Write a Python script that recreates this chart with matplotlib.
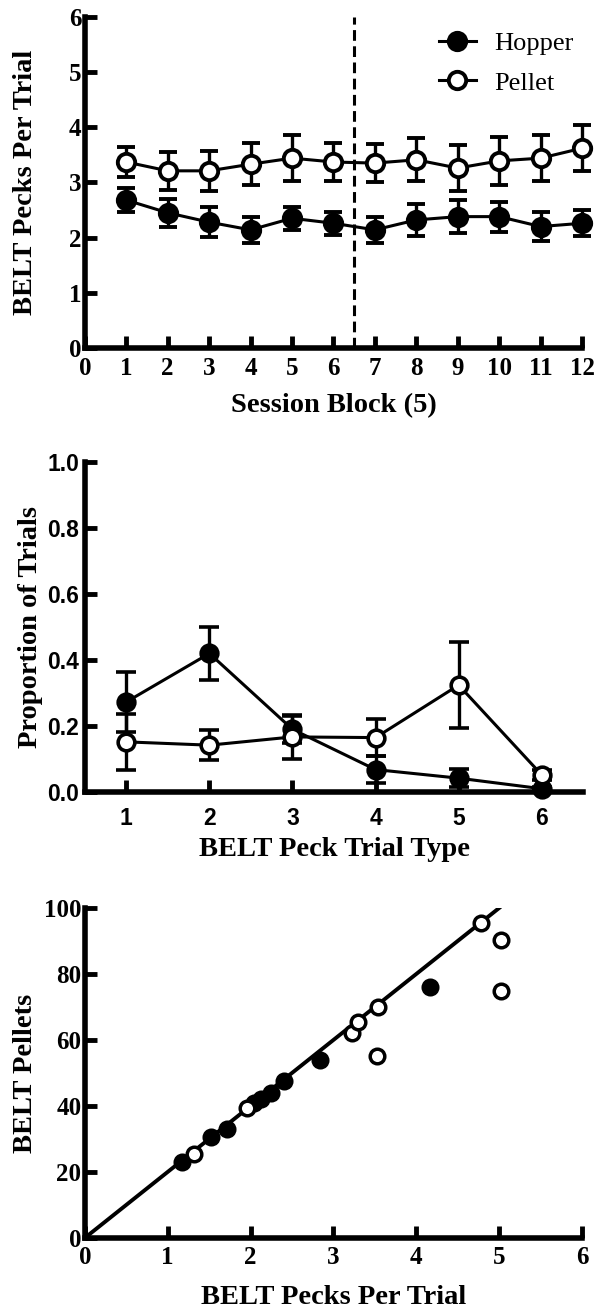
import matplotlib
matplotlib.use('Agg')
import matplotlib.pyplot as plt
from matplotlib.lines import Line2D

SERIF = 'Liberation Serif'
SANS = 'Liberation Sans'

# Top panel: pecks per trial by session block
blocks = [1, 2, 3, 4, 5, 6, 7, 8, 9, 10, 11, 12]
hopper_pecks = [2.68, 2.45, 2.28, 2.14, 2.35, 2.26, 2.14, 2.32, 2.38, 2.38, 2.20, 2.26]
hopper_pecks_sem = [0.22, 0.25, 0.27, 0.23, 0.21, 0.21, 0.24, 0.29, 0.30, 0.27, 0.26, 0.24]
pellet_pecks = [3.37, 3.21, 3.21, 3.33, 3.44, 3.37, 3.35, 3.41, 3.26, 3.39, 3.44, 3.62]
pellet_pecks_sem = [0.28, 0.34, 0.36, 0.38, 0.42, 0.34, 0.34, 0.39, 0.42, 0.44, 0.42, 0.42]
phase_change = 6.5

# Middle panel: proportion of trials by peck trial type
trial_types = [1, 2, 3, 4, 5, 6]
hopper_prop = [0.273, 0.42, 0.19, 0.068, 0.042, 0.01]
hopper_prop_sem = [0.09, 0.08, 0.04, 0.04, 0.028, 0.005]
pellet_prop = [0.152, 0.142, 0.167, 0.165, 0.324, 0.052]
pellet_prop_sem = [0.085, 0.046, 0.067, 0.057, 0.13, 0.015]

# Bottom panel: pellets vs pecks per trial (individual birds)
hopper_x = [1.17, 1.52, 1.72, 2.04, 2.13, 2.25, 2.40, 2.84, 4.16]
hopper_y = [23, 30.5, 33, 41, 42, 44, 47.5, 54, 76]
pellet_x = [1.32, 1.96, 3.22, 3.30, 3.53, 3.54, 4.78, 5.02, 5.02]
pellet_y = [25.3, 39.3, 62, 65.5, 55.2, 70, 95.5, 90.3, 74.8]
fit_slope = 20.0
fit_range = [0, 5]


def style_axes(ax, tick_family, xpad, ypad):
    for s in ['top', 'right']:
        ax.spines[s].set_visible(False)
    for s in ['left', 'bottom']:
        ax.spines[s].set_linewidth(4)
        ax.spines[s].set_capstyle('projecting')
    ax.tick_params(direction='in', length=8.5, width=3.5, labelsize=18)
    ax.tick_params(axis='x', pad=xpad)
    ax.tick_params(axis='y', pad=ypad)
    for lab in ax.get_xticklabels() + ax.get_yticklabels():
        lab.set_fontfamily(tick_family)
        lab.set_fontweight('bold')


def set_labels(ax, xlabel, ylabel, xpos, ypos):
    ax.set_xlabel(xlabel, fontsize=20.5, fontweight='bold', family=SERIF)
    ax.set_ylabel(ylabel, fontsize=20.5, fontweight='bold', family=SERIF)
    ax.xaxis.set_label_coords(0.5, xpos)
    ax.yaxis.set_label_coords(ypos, 0.5)


fig = plt.figure(figsize=(5.97, 13.10), dpi=100)

# ---- Top panel
ax1 = fig.add_axes([0.142, 0.7344, 0.833, 0.2527])
ax1.axvline(phase_change, color='black', lw=2.2, ls=(0, (3.5, 1.8)), zorder=1)
ax1.errorbar(blocks, hopper_pecks, yerr=hopper_pecks_sem, color='black', lw=2.2,
             marker='o', ms=12.5, mfc='black', mec='black', mew=2.8,
             capsize=6.5, capthick=2.4, elinewidth=2.4, clip_on=False, zorder=3)
ax1.errorbar(blocks, pellet_pecks, yerr=pellet_pecks_sem, color='black', lw=2.2,
             marker='o', ms=12.5, mfc='white', mec='black', mew=2.8,
             capsize=6.5, capthick=2.4, elinewidth=2.4, clip_on=False, zorder=4)
ax1.set_xlim(0, 12)
ax1.set_ylim(0, 6)
ax1.set_xticks(range(0, 13))
ax1.set_yticks(range(0, 7))
style_axes(ax1, SERIF, 6.5, 2.5)
set_labels(ax1, 'Session Block (5)', 'BELT Pecks Per Trial', -0.135, -0.095)

handles = [
    Line2D([], [], color='black', lw=2.2, marker='o', ms=12.5, mfc='black', mec='black', mew=2.8),
    Line2D([], [], color='black', lw=2.2, marker='o', ms=12.5, mfc='white', mec='black', mew=2.8),
]
ax1.legend(handles, ['Hopper', 'Pellet'], loc='upper left', bbox_to_anchor=(0.712, 0.955),
           frameon=False, prop={'family': SERIF, 'size': 19}, handlelength=1.4,
           handletextpad=0.7, labelspacing=0.6, borderpad=0, borderaxespad=0)

# ---- Middle panel
ax2 = fig.add_axes([0.142, 0.3954, 0.835, 0.2519])
ax2.errorbar(trial_types, hopper_prop, yerr=hopper_prop_sem, color='black', lw=2.2,
             marker='o', ms=12, mfc='black', mec='black', mew=2.6,
             capsize=7, capthick=2.4, elinewidth=2.4, clip_on=False, zorder=3)
ax2.errorbar(trial_types, pellet_prop, yerr=pellet_prop_sem, color='black', lw=2.2,
             marker='o', ms=12, mfc='white', mec='black', mew=2.6,
             capsize=7, capthick=2.4, elinewidth=2.4, clip_on=False, zorder=4)
ax2.set_xlim(0.5, 6.5)
ax2.set_ylim(0, 1.0)
ax2.set_xticks(trial_types)
ax2.set_yticks([0, 0.2, 0.4, 0.6, 0.8, 1.0])
ax2.set_yticklabels(['0.0', '0.2', '0.4', '0.6', '0.8', '1.0'])
style_axes(ax2, SANS, 11, 4)
for lab in ax2.get_xticklabels() + ax2.get_yticklabels():
    lab.set_fontsize(16.5)
set_labels(ax2, 'BELT Peck Trial Type', 'Proportion of Trials', -0.135, -0.084)

# ---- Bottom panel
ax3 = fig.add_axes([0.142, 0.055, 0.833, 0.2519])
ax3.plot(fit_range, [fit_slope * v for v in fit_range], color='black', lw=2.8, zorder=2)
ax3.plot(hopper_x, hopper_y, ls='none', marker='o', ms=10.5, mfc='black', mec='black',
         mew=2.5, clip_on=False, zorder=3)
ax3.plot(pellet_x, pellet_y, ls='none', marker='o', ms=10.5, mfc='white', mec='black',
         mew=2.5, clip_on=False, zorder=4)
ax3.set_xlim(0, 6)
ax3.set_ylim(0, 100)
ax3.set_xticks(range(0, 7))
ax3.set_yticks(range(0, 101, 20))
style_axes(ax3, SERIF, 6, 2.5)
set_labels(ax3, 'BELT Pecks Per Trial', 'BELT Pellets', -0.142, -0.095)

fig.savefig('out.png', dpi=100)
